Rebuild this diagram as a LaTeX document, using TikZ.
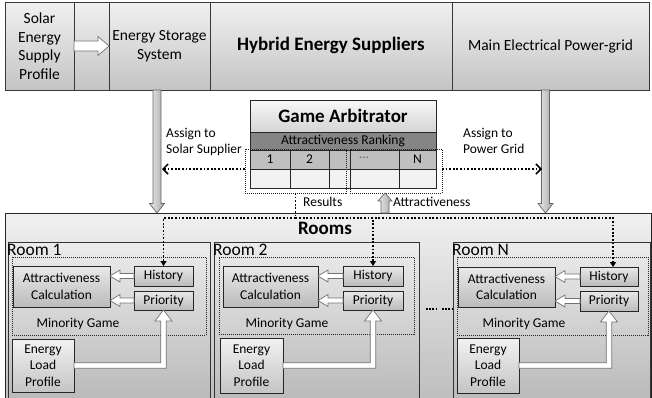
\documentclass[tikz,border=0pt]{standalone}
\usepackage{fontspec}
\setmainfont{Carlito}
\usetikzlibrary{arrows.meta,calc}
\definecolor{topA}{HTML}{F0F0F0}
\definecolor{topB}{HTML}{C4C4C4}
\definecolor{roomsA}{HTML}{F0F0F0}
\definecolor{roomsB}{HTML}{BDBDBD}
\definecolor{roomA}{HTML}{ECECEC}
\definecolor{roomB}{HTML}{B9B9B9}
\definecolor{inA}{HTML}{E9E9E9}
\definecolor{inB}{HTML}{BBBBBB}
\definecolor{loadA}{HTML}{F2F2F2}
\definecolor{loadB}{HTML}{C4C4C4}
\definecolor{gaA}{HTML}{F8F8F8}
\definecolor{gaB}{HTML}{D4D4D4}
\definecolor{rankC}{HTML}{858585}
\definecolor{numC}{HTML}{BFBFBF}
\definecolor{emptyC}{HTML}{F2F2F2}
\definecolor{arrA}{HTML}{EAEAEA}
\definecolor{arrB}{HTML}{A8A8A8}
\newcommand\smallfont{\fontsize{13.5}{16.5}\selectfont}
\newcommand\topfont{\fontsize{15.5}{18.5}\selectfont}
\newcommand\titlefont{\fontsize{19}{22}\selectfont\bfseries}
\newcommand\roomfont{\fontsize{17.5}{20}\selectfont}
\newcommand\hollowleft[2]{\draw[hollow] let \p1=(#1.west), \p2=(#2.east) in
  (\x1,\y1+2.5pt) -- (\x2+10pt,\y1+2.5pt) -- (\x2+10pt,\y1+6pt) -- (\x2,\y1) --
  (\x2+10pt,\y1-6pt) -- (\x2+10pt,\y1-2.5pt) -- (\x1,\y1-2.5pt) -- cycle;}
\newcommand\bentup[2]{\draw[hollow] let \p1=(#1.east), \p2=(#2.south) in
  (\x1,\y1+2.75pt) -- (\x2-2.75pt,\y1+2.75pt) -- (\x2-2.75pt,\y2-11pt) --
  (\x2-8.5pt,\y2-11pt) -- (\x2,\y2) -- (\x2+8.5pt,\y2-11pt) --
  (\x2+2.75pt,\y2-11pt) -- (\x2+2.75pt,\y1-2.75pt) -- (\x1,\y1-2.75pt) -- cycle;}
\newcommand\soliddown[2]{\draw[solidarr] let \p1=(#1), \p2=(#2) in
  (\x1-4pt,\y1) -- (\x1-4pt,\y2+9.5pt) -- (\x1-7.5pt,\y2+9.5pt) -- (\x1,\y2) --
  (\x1+7.5pt,\y2+9.5pt) -- (\x1+4pt,\y2+9.5pt) -- (\x1+4pt,\y1) -- cycle;}
\begin{document}
\begin{tikzpicture}[x=1pt,y=-1pt,
  cellbase/.style={anchor=north west, inner sep=0pt, outer sep=0pt, align=center},
  topcell/.style={cellbase, draw=black!78, line width=0.9pt, top color=topA, bottom color=topB, font=\topfont},
  roomsbox/.style={cellbase, draw=black!85, line width=0.9pt, top color=roomsA, bottom color=roomsB},
  roombox/.style={cellbase, draw=black!80, line width=0.9pt, top color=roomA, bottom color=roomB},
  innerbox/.style={cellbase, draw=black!85, line width=0.8pt, top color=inA, bottom color=inB, font=\smallfont},
  loadbox/.style={cellbase, draw=black!85, line width=0.8pt, top color=loadA, bottom color=loadB, font=\smallfont},
  dotbox/.style={cellbase, draw=black!85, line width=0.7pt, dash pattern=on 1pt off 1pt},
  gacell/.style={cellbase, draw=black!85, line width=0.8pt, font=\smallfont},
  hollow/.style={draw=black!55, fill=white, line width=0.7pt, line join=miter},
  solidarr/.style={draw=black!60, left color=arrA, right color=arrB, line width=0.7pt},
  assign/.style={line width=1.8pt, dash pattern=on 1.8pt off 1.8pt,
    -{Straight Barb[length=5pt, width=10pt, line width=1.5pt]}},
  resline/.style={line width=1.8pt, dash pattern=on 1.8pt off 1.8pt},
  resarrow/.style={resline, -{Triangle[length=5pt, width=6pt]}},
  lbl/.style={font=\smallfont, inner sep=0pt, align=left}]
\clip (0,0) rectangle (652,397);
\fill[white] (0,0) rectangle (652,397);

% top row
\node[topcell, minimum width=69pt, minimum height=88pt] (solar) at (5,2) {Solar\\Energy\\Supply\\Profile};
\node[topcell, minimum width=35pt, minimum height=88pt] (gapc) at (74,2) {};
\node[topcell, minimum width=101pt, minimum height=88pt] (storage) at (109,2) {Energy Storage\\System};
\node[topcell, minimum width=242pt, minimum height=88pt, font=\titlefont] (hybrid) at (210,2) {\raisebox{4pt}{Hybrid Energy Suppliers}};
\node[topcell, minimum width=197pt, minimum height=88pt] (main) at (452,2) {Main Electrical Power-grid};
\draw[hollow] let \p1=(solar.east), \p2=(storage.west) in
  (\x1,\y1+5pt) -- (\x2-11pt,\y1+5pt) -- (\x2-11pt,\y1+9.5pt) -- (\x2,\y1) --
  (\x2-11pt,\y1-9.5pt) -- (\x2-11pt,\y1-5pt) -- (\x1,\y1-5pt) -- cycle;

% rooms outer box
\node[roomsbox, minimum width=646pt, minimum height=190pt] (rooms) at (5,213) {};
\node[font=\titlefont, inner sep=0pt] (roomstitle) at (325,228) {Rooms};

% supply arrows
\coordinate (storeout) at ($(storage.south)+(-2.5,0)$);
\coordinate (storetip) at (storeout |- rooms.north);
\coordinate (mainout) at ($(main.south)+(-5,0)$);
\coordinate (maintip) at (mainout |- rooms.north);
\soliddown{storeout}{storetip}
\soliddown{mainout}{maintip}

% game arbitrator
\node[gacell, minimum width=186pt, minimum height=32pt, top color=gaA, bottom color=gaB, font=\titlefont] (gatitle) at (250,100) {Game Arbitrator};
\node[gacell, minimum width=186pt, minimum height=18pt, fill=rankC, text=black] (garank) at (250,132) {Attractiveness Ranking};
\node[gacell, minimum width=40pt, minimum height=19pt, fill=numC] (c1) at (250,150) {1};
\node[gacell, minimum width=39pt, minimum height=19pt, fill=numC] (c2) at (290,150) {2};
\node[gacell, minimum width=21pt, minimum height=19pt, fill=numC] (c3) at (329,150) {};
\node[gacell, minimum width=49pt, minimum height=19pt, fill=numC] (c4) at (350,150) {};
\node[gacell, minimum width=37pt, minimum height=19pt, fill=numC] (c5) at (399,150) {N};
\node[font=\smallfont, text=black!60, inner sep=0pt] (dots) at (364,158) {...};
\node[gacell, minimum width=40pt, minimum height=19pt, fill=emptyC] (e1) at (250,169) {};
\node[gacell, minimum width=39pt, minimum height=19pt, fill=emptyC] (e2) at (290,169) {};
\node[gacell, minimum width=21pt, minimum height=19pt, fill=emptyC] (e3) at (329,169) {};
\node[gacell, minimum width=49pt, minimum height=19pt, fill=emptyC] (e4) at (350,169) {};
\node[gacell, minimum width=37pt, minimum height=19pt, fill=emptyC] (e5) at (399,169) {};
\node[dotbox, minimum width=101pt, minimum height=44pt] (leftdot) at (245,149) {};
\node[dotbox, minimum width=92pt, minimum height=44pt] (rightdot) at (350,149) {};

% assign arrows and labels
\coordinate (solarasg) at (162,169);
\coordinate (gridasg) at (542,169);
\draw[assign] (leftdot.west |- e1.north) -- (solarasg);
\draw[assign] (rightdot.east |- e1.north) -- (gridasg);
\node[lbl, anchor=north west] (asgsolar) at (166,128) {Assign to\\Solar Supplier};
\node[lbl, anchor=north west] (asggrid) at (463,128) {Assign to\\Power Grid};

% attractiveness up arrow
\coordinate (attrbase) at (385,213);
\coordinate (attrtip) at (attrbase |- rightdot.south);
\draw[solidarr] let \p1=(attrbase), \p2=(attrtip) in
  (\x1-4pt,\y1) -- (\x1-4pt,\y2-8pt) -- (\x1-7pt,\y2-8pt) -- (\x2,\y2) --
  (\x1+7pt,\y2-8pt) -- (\x1+4pt,\y2-8pt) -- (\x1+4pt,\y1) -- cycle;
\node[lbl, anchor=west] (attrlbl) at (393,202) {Attractiveness};
\node[lbl, anchor=west] (reslbl) at (303,202) {Results};

% rooms
\node[roombox, minimum width=202pt, minimum height=160pt] (room1) at (8,242) {};
\node[roombox, minimum width=205pt, minimum height=160pt] (room2) at (214,242) {};
\node[roombox, minimum width=197pt, minimum height=160pt] (roomN) at (453,242) {};
\node[font=\roomfont, inner sep=0pt, anchor=west] (r1lbl) at ($(room1.north west)+(-1,8)$) {Room 1};
\node[font=\roomfont, inner sep=0pt, anchor=west] (r2lbl) at ($(room2.north west)+(-1,8)$) {Room 2};
\node[font=\roomfont, inner sep=0pt, anchor=west] (rNlbl) at ($(roomN.north west)+(-1,8)$) {Room N};

\node[dotbox, minimum width=194pt, minimum height=78pt] (mg1) at (12,257) {};
\node[dotbox, minimum width=195pt, minimum height=77pt] (mg2) at (219,257) {};
\node[dotbox, minimum width=191pt, minimum height=78pt] (mgN) at (457,257) {};
\node[lbl] (mg1lbl) at (78,324) {Minority Game};
\node[lbl] (mg2lbl) at (287,324) {Minority Game};
\node[lbl] (mgNlbl) at (524,324) {Minority Game};

\node[innerbox, minimum width=97pt, minimum height=41pt] (attr1) at (13,266) {Attractiveness\\Calculation};
\node[innerbox, minimum width=95pt, minimum height=41pt] (attr2) at (223,266) {Attractiveness\\Calculation};
\node[innerbox, minimum width=97pt, minimum height=40pt] (attrN) at (458,267) {Attractiveness\\Calculation};
\node[innerbox, minimum width=59pt, minimum height=20pt] (hist1) at (134,266) {History};
\node[innerbox, minimum width=59pt, minimum height=19pt] (prio1) at (134,291) {Priority};
\node[innerbox, minimum width=60pt, minimum height=20pt] (hist2) at (343,266) {History};
\node[innerbox, minimum width=60pt, minimum height=19pt] (prio2) at (343,291) {Priority};
\node[innerbox, minimum width=58pt, minimum height=19pt] (histN) at (580,267) {History};
\node[innerbox, minimum width=58pt, minimum height=20pt] (prioN) at (580,291) {Priority};
\node[loadbox, minimum width=62pt, minimum height=53pt] (load1) at (12,339) {Energy\\Load\\Profile};
\node[loadbox, minimum width=63pt, minimum height=55pt] (load2) at (220,338) {Energy\\Load\\Profile};
\node[loadbox, minimum width=62pt, minimum height=55pt] (loadN) at (457,338) {Energy\\Load\\Profile};

\hollowleft{hist1}{attr1}
\hollowleft{prio1}{attr1}
\hollowleft{hist2}{attr2}
\hollowleft{prio2}{attr2}
\hollowleft{histN}{attrN}
\hollowleft{prioN}{attrN}
\bentup{load1}{prio1}
\bentup{load2}{prio2}
\bentup{loadN}{prioN}

% results distribution
\coordinate (bus) at (leftdot.south |- 0,218);
\draw[resline] (leftdot.south) -- (bus);
\draw[resarrow] (bus) -| (hist1.north);
\draw[resarrow] (bus) -| (hist2.north);
\draw[resarrow] (bus) -| ($(histN.north)+(4,0)$);

% ellipsis between rooms
\draw[resline, line width=1.6pt, dash pattern=on 1.6pt off 1.6pt] (426,309) -- (437,309);
\draw[resline, line width=1.6pt, dash pattern=on 1.6pt off 1.6pt] (442,309) -- (452,309);
\end{tikzpicture}
\end{document}
